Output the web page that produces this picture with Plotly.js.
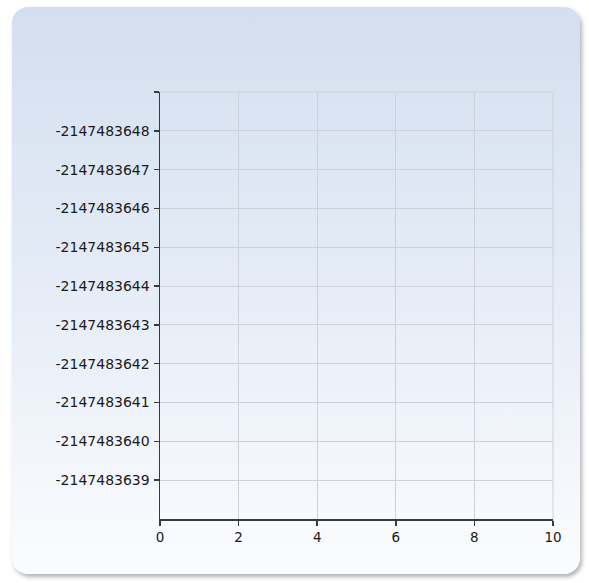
<!DOCTYPE html>
<html>
<head>
<meta charset="utf-8">
<script src="https://cdn.plot.ly/plotly-3.0.1.min.js"></script>
<style>
  html, body { margin: 0; padding: 0; background: #ffffff; width: 589px; height: 583px; overflow: hidden; }
  #panel {
    position: absolute; left: 12px; top: 7px; width: 568px; height: 567px;
    border-radius: 16px;
    background: linear-gradient(to bottom, #d3dfef 0%, #e4ebf6 45%, #fbfcfe 100%);
    box-shadow: 2px 3px 4px rgba(0,0,0,0.3);
  }
  #chart { position: absolute; left: 0; top: 0; width: 589px; height: 583px; }
</style>
</head>
<body>
<div id="panel"></div>
<div id="chart"></div>
<script>
// Data (the chart has no plotted series)
const seriesX = [];
const seriesY = [];
const xTickValues = [0, 2, 4, 6, 8, 10];
const yTickValues = [-2147483649, -2147483648, -2147483647, -2147483646, -2147483645,
                     -2147483644, -2147483643, -2147483642, -2147483641, -2147483640, -2147483639];
const yTickLabels = ["", "-2147483648", "-2147483647", "-2147483646", "-2147483645",
                     "-2147483644", "-2147483643", "-2147483642", "-2147483641", "-2147483640", "-2147483639"];
const xRange = [0, 10];
const yRange = [-2147483638, -2147483649]; // reversed axis

const gridColor = '#cdd2da';
const axisColor = '#3a3a3a';

const data = [{
  type: 'scatter', mode: 'lines', x: seriesX, y: seriesY,
  hoverinfo: 'skip', showlegend: false
}];

const layout = {
  width: 589, height: 583,
  margin: { l: 160, r: 36, t: 92, b: 64, pad: 0 },
  paper_bgcolor: 'rgba(0,0,0,0)',
  plot_bgcolor: 'rgba(0,0,0,0)',
  font: { family: 'DejaVu Sans, Verdana, sans-serif', size: 13, color: '#1a1a1a' },
  showlegend: false,
  xaxis: {
    range: xRange, tickmode: 'array', tickvals: xTickValues,
    ticktext: xTickValues.map(String),
    tickfont: { size: 13.5 },
    showgrid: true, gridcolor: gridColor, gridwidth: 1,
    zeroline: false, showline: true, linecolor: axisColor, linewidth: 1.5,
    ticks: 'outside', ticklen: 5, tickcolor: axisColor, tickwidth: 1.5,
    fixedrange: true
  },
  yaxis: {
    range: yRange, tickmode: 'array', tickvals: yTickValues, ticktext: yTickLabels,
    tickfont: { size: 14 },
    ticklabelstandoff: 1,
    showgrid: true, gridcolor: gridColor, gridwidth: 1,
    zeroline: false, showline: true, linecolor: axisColor, linewidth: 1.5,
    ticks: 'outside', ticklen: 5, tickcolor: axisColor, tickwidth: 1.5,
    fixedrange: true
  },
  shapes: [
    { type: 'line', xref: 'paper', yref: 'paper', x0: 0, x1: 1, y0: 1, y1: 1,
      line: { color: gridColor, width: 1 }, layer: 'below' },
    { type: 'line', xref: 'paper', yref: 'paper', x0: 1, x1: 1, y0: 0, y1: 1,
      line: { color: gridColor, width: 1 }, layer: 'below' }
  ]
};

Plotly.newPlot('chart', data, layout, { displayModeBar: false, staticPlot: true });
</script>
</body>
</html>
